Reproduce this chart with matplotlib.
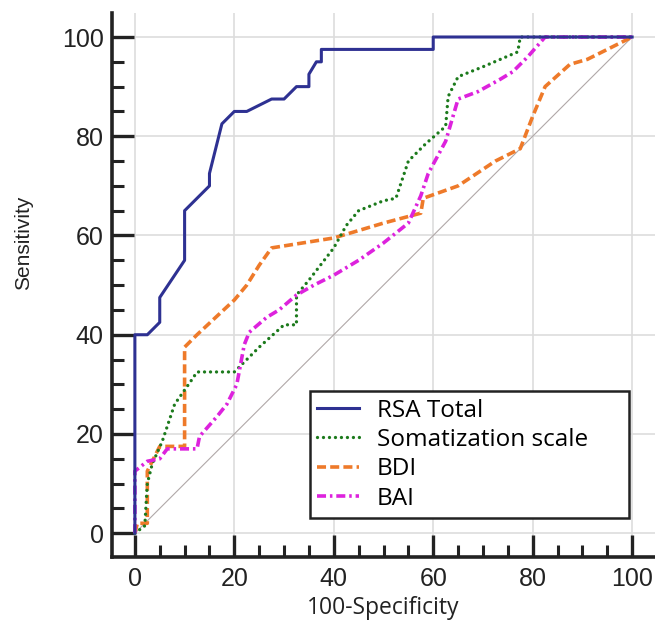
import matplotlib
matplotlib.use("Agg")
from matplotlib import pyplot as plt
from matplotlib.ticker import MultipleLocator

plt.rcParams['lines.scale_dashes'] = False

# ROC curves (x = 100-Specificity, y = Sensitivity)
rsa_x = [0, 0, 2.5, 5, 5, 10, 10, 15, 15, 17.5, 20, 22.5, 27.5, 30, 32.5, 35, 35, 36.5, 37.5, 37.5, 60, 60, 100]
rsa_y = [0, 40, 40, 42.5, 47.5, 55, 65, 70, 72.5, 82.5, 85, 85, 87.5, 87.5, 90, 90, 92.5, 95, 95, 97.5, 97.5, 100, 100]

som_x = [0, 2, 2.5, 3.5, 5.5, 8, 11.5, 12.5, 20, 22, 25, 30, 32.5, 32.5, 35, 40, 42.5, 45, 50, 52.5,
         55, 58.5, 62.5, 63, 65, 70, 77, 77.5, 100]
som_y = [0, 1.5, 10, 14, 18.5, 26, 31, 32.5, 32.5, 34.5, 37.5, 42, 42, 48, 51, 57.5, 62, 65, 67, 67.5,
         75, 78.5, 82, 88, 92, 94, 97, 100, 100]

bdi_x = [0, 0.5, 2.5, 2.5, 5, 10, 10, 12.5, 20, 22.5, 25, 27.5, 40, 50, 57.5, 58, 65, 72.5, 77.5,
         80, 82.5, 87.5, 91, 100]
bdi_y = [0, 2, 2, 12.5, 17.5, 17.5, 37.5, 40, 47, 50, 54, 57.5, 59.5, 62.5, 64.5, 67.5, 70, 75, 77.5,
         84, 90, 94.5, 95.5, 100]

bai_x = [0, 0, 2.5, 5, 6.5, 12.5, 13, 16.5, 18.5, 20.5, 22, 23, 26.5, 29, 32.5, 36, 40, 45, 50, 55,
         57.5, 59, 62.5, 65, 69, 73.5, 76, 79, 82.5, 100]
bai_y = [0, 12.5, 14.5, 15, 17, 17, 19.5, 23.5, 26, 30, 38, 40.5, 43.5, 45, 48, 50, 52, 55, 58.5, 62.5,
         68, 72.5, 79, 87.5, 89, 91.5, 93, 96, 100, 100]

fig = plt.figure(figsize=(6.55, 6.28), dpi=100)
ax = fig.add_axes([0.171, 0.113, 0.829, 0.866])

ax.plot([0, 100], [0, 100], color='#b0a8a8', lw=0.8, zorder=2)
ax.plot(rsa_x, rsa_y, color='#2e3192', lw=2.2, label='RSA Total', zorder=5)
ax.plot(som_x, som_y, color='#1c7a1c', lw=2.4, dashes=(0.01, 4.3), dash_capstyle='round',
        label='Somatization scale', zorder=4)
ax.plot(bdi_x, bdi_y, color='#ee7a2a', lw=2.6, dashes=(6.5, 3), label='BDI', zorder=3)
ax.plot(bai_x, bai_y, color='#dd22dd', lw=2.6, dashes=(6.5, 2.8, 1.8, 2.8), label='BAI', zorder=4)

ax.set_xlim(-4.6, 104.6)
ax.set_ylim(-4.8, 104.8)
ax.xaxis.set_major_locator(MultipleLocator(20))
ax.yaxis.set_major_locator(MultipleLocator(20))
ax.xaxis.set_minor_locator(MultipleLocator(5))
ax.yaxis.set_minor_locator(MultipleLocator(5))
ax.grid(True, which='major', color='#dddddd', lw=1.2, zorder=0)

for s in ['top', 'right']:
    ax.spines[s].set_visible(False)
for s in ['left', 'bottom']:
    ax.spines[s].set_linewidth(2.6)
    ax.spines[s].set_color('#222222')

ax.tick_params(which='major', direction='in', length=15.5, width=2.4, color='#222222',
               labelsize=18, labelcolor='#222222', labelfontfamily='Liberation Sans', pad=6)
ax.tick_params(which='minor', direction='in', length=8.5, width=2.2, color='#222222')
ax.tick_params(axis='x', which='major', pad=7)

ax.set_xlabel('100-Specificity', fontsize=16.5, family='Open Sans', color='#222222')
ax.xaxis.set_label_coords(0.5, -0.072)
ax.set_ylabel('Sensitivity', fontsize=15, family='Liberation Sans', color='#222222')
ax.yaxis.set_label_coords(-0.145, 0.577)

leg = ax.legend(loc='lower left', bbox_to_anchor=(0.365, 0.072, 0.5875, 0.24), mode='expand',
                borderaxespad=0, fancybox=False, framealpha=1, edgecolor='#222222',
                prop={'family': 'Open Sans', 'size': 17.5}, handlelength=1.7,
                handletextpad=0.75, labelspacing=0.22, borderpad=0.3)
leg.get_frame().set_linewidth(1.8)

fig.savefig('out.png', dpi=100)
